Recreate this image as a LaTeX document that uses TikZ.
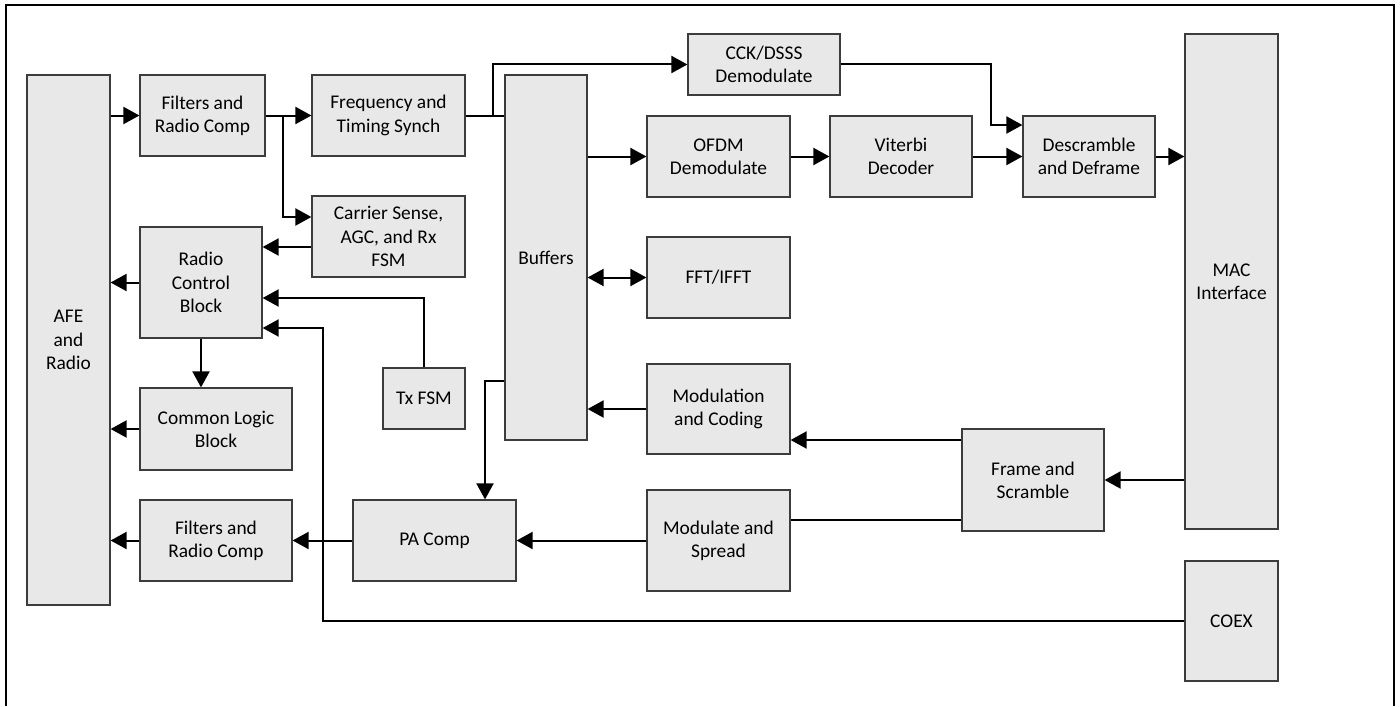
\documentclass[tikz,border=0pt]{standalone}
\usepackage{fontspec}
\setmainfont{Carlito}
\usetikzlibrary{arrows.meta}
\definecolor{blkfill}{RGB}{232,232,232}
\definecolor{blkline}{RGB}{60,60,60}
\tikzset{
  blk/.style={
    rectangle,
    draw=blkline,
    fill=blkfill,
    line width=.6pt,
    inner sep=1pt,
    align=center,
    font=\fontsize{9.7}{11.6}\selectfont,
  },
  wire/.style={
    line width=1pt,
  },
  arr/.style={
    wire,
    -{Triangle[length=8pt,width=8.5pt]},
  },
  darr/.style={
    wire,
    {Triangle[length=8pt,width=8.5pt]}-{Triangle[length=8pt,width=8.5pt]},
  },
}

\begin{document}
\begin{tikzpicture}[x=.5pt,y=-.5pt]
    \useasboundingbox (0,0) rectangle (1400,706);
    \draw[line width=1.2pt] (6,706) -- (6,5) -- (1394,5) -- (1394,706);

    % receive side
    \node[blk,minimum width=41.5pt,minimum height=265pt] at (68.5,340) (afe) {AFE\\and\\Radio};
    \node[blk,minimum width=62.5pt,minimum height=40.5pt] at (202.5,115.5) (filtin) {Filters and\\Radio Comp};
    \node[blk,minimum width=76.5pt,minimum height=40.5pt] at (388.5,115.5) (sync) {Frequency and\\Timing Synch};
    \node[blk,minimum width=76.5pt,minimum height=40.5pt] at (388.5,236.5) (cs) {Carrier Sense,\\AGC, and Rx\\FSM};
    \node[blk,minimum width=61pt,minimum height=55.5pt] at (201,282.5) (rcb) {Radio\\Control\\Block};
    \node[blk,minimum width=76pt,minimum height=41pt] at (216,429) (clb) {Common Logic\\Block};
    \node[blk,minimum width=76pt,minimum height=40.5pt] at (216,540.5) (filtout) {Filters and\\Radio Comp};
    \node[blk,minimum width=41pt,minimum height=30.5pt] at (424,398.5) (txfsm) {Tx FSM};
    \node[blk,minimum width=81.5pt,minimum height=40.5pt] at (434.5,540.5) (pa) {PA Comp};
    \node[blk,minimum width=41pt,minimum height=182.5pt] at (546,257.5) (buf) {Buffers};
    \node[blk,minimum width=76pt,minimum height=30.5pt] at (764,64.5) (cck) {CCK/DSSS\\Demodulate};
    \node[blk,minimum width=71.5pt,minimum height=40.5pt] at (718.5,156.5) (ofdm) {OFDM\\Demodulate};
    \node[blk,minimum width=71pt,minimum height=40.5pt] at (901,156.5) (vit) {Viterbi\\Decoder};
    \node[blk,minimum width=66pt,minimum height=40.5pt] at (1089,156.5) (desc) {Descramble\\and Deframe};
    \node[blk,minimum width=46.5pt,minimum height=247.5pt] at (1231.5,281.5) (mac) {MAC\\Interface};

    % transmit side
    \node[blk,minimum width=71.5pt,minimum height=40.5pt] at (718.5,277.5) (fft) {FFT/IFFT};
    \node[blk,minimum width=71.5pt,minimum height=45pt] at (718.5,409) (modc) {Modulation\\and Coding};
    \node[blk,minimum width=71.5pt,minimum height=50.5pt] at (718.5,540.5) (mods) {Modulate and\\Spread};
    \node[blk,minimum width=71pt,minimum height=51pt] at (1033,480) (fs) {Frame and\\Scramble};
    \node[blk,minimum width=46.5pt,minimum height=60pt] at (1231.5,621) (coex) {COEX};

    \coordinate (j1) at (283,115.5);
    \coordinate (j2) at (493,115.5);

    \draw[arr] (afe.east |- filtin.west) -- (filtin.west);
    \draw[arr] (filtin.east) -- (sync.west);
    \draw[arr] (j1) |- (cs.west |- 0,217);
    \draw[arr] (cs.west |- 0,247) -- (rcb.east |- 0,247);
    \draw[arr] (rcb.west) -- (afe.east |- rcb.west);
    \draw[arr] (txfsm.north) |- (rcb.east |- 0,298);
    \draw[arr] (coex.west) -| (323,328) -- (rcb.east |- 0,328);
    \draw[arr] (rcb.south) -- (rcb.south |- clb.north);
    \draw[arr] (clb.west) -- (afe.east |- clb.west);
    \draw[arr] (filtout.west) -- (afe.east |- filtout.west);
    \draw[arr] (pa.west) -- (filtout.east);

    \draw[wire] (sync.east) -- (buf.west |- sync.east);
    \draw[arr] (j2) |- (cck.west);
    \draw[arr] (cck.east) -| (991,125) -- (desc.west |- 0,125);
    \draw[arr] (buf.east |- ofdm.west) -- (ofdm.west);
    \draw[arr] (ofdm.east) -- (vit.west);
    \draw[arr] (vit.east) -- (desc.west);
    \draw[arr] (desc.east) -- (mac.west |- desc.east);
    \draw[darr] (buf.east |- fft.west) -- (fft.west);

    \draw[arr] (modc.west) -- (buf.east |- modc.west);
    \draw[arr] (buf.west |- 0,381) -| (pa.north -| 485,0);
    \draw[arr] (fs.west |- 0,440) -- (modc.east |- 0,440);
    \draw[wire] (fs.west |- 0,520) -- (mods.east |- 0,520);
    \draw[arr] (mac.west |- fs.east) -- (fs.east);
    \draw[arr] (mods.west) -- (pa.east);
  \end{tikzpicture}
\end{document}
